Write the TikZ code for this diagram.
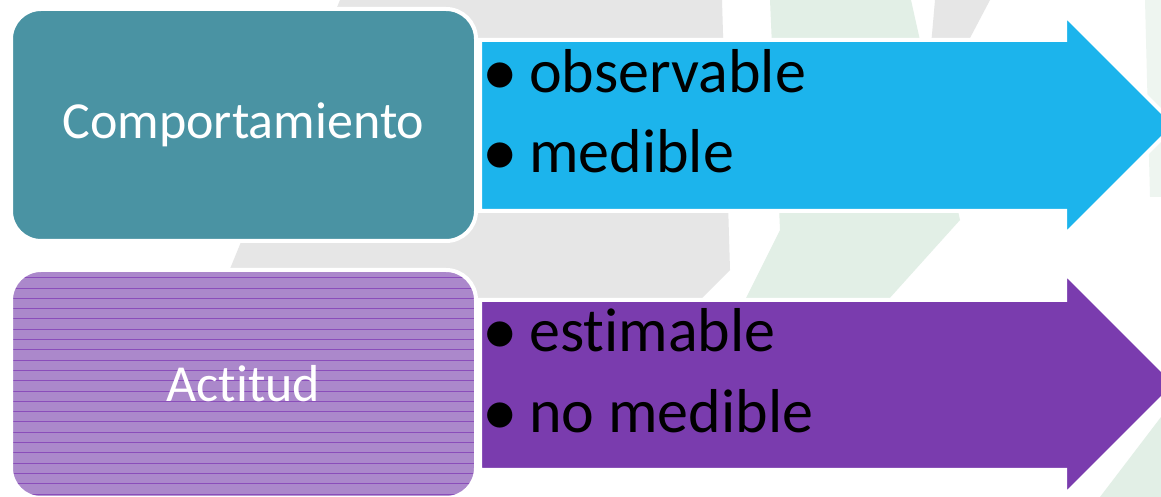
\documentclass[tikz,border=0pt]{standalone}
\usepackage{fontspec}
\setmainfont{Carlito}[Ligatures={NoCommon,NoRare,NoContextual}]

\definecolor{tealbox}{HTML}{4A93A3}
\definecolor{cyanarr}{HTML}{1CB4EC}
\definecolor{lilacbox}{HTML}{AB88CB}
\definecolor{lilacline}{HTML}{8A4DBA}
\definecolor{purplearr}{HTML}{7A3CAE}
\definecolor{wmgray}{HTML}{E6E6E6}
\definecolor{wmgreen}{HTML}{E2EFE6}

\newcommand{\itm}[1]{\makebox[48pt][l]{\hspace{1pt}\raisebox{-3pt}{\scalebox{1.15}{\textbullet}}}#1}

\begin{document}
\begin{tikzpicture}[x=1pt,y=1pt]
  \tikzset{
    box/.style={rounded corners=30pt, draw=white, line width=4pt,
      minimum width=465pt, inner sep=0pt, text=white,
      font=\fontsize{52}{60}\selectfont},
    arrowbody/.style={draw=white, line width=4pt},
    itemtext/.style={anchor=base west, inner sep=0pt,
      font=\fontsize{62}{75}\selectfont}
  }
  \useasboundingbox (0,0) rectangle (1161,497);
  \clip (0,0) rectangle (1161,497);
  \fill[white] (0,0) rectangle (1161,497);
  % watermark behind
  \fill[wmgray] (340,497) -- (722,497) -- (730,227) -- (670,167) -- (205,167) -- cycle;
  \fill[wmgreen] (770,497) -- (911,497) -- (960,277) -- (870,177) -- (730,167) -- (780,267) -- cycle;
  \fill[wmgray] (935,497) -- (990,497) -- (960,440) -- (930,440) -- cycle;
  \fill[wmgreen!60] (1145,497) -- (1161,497) -- (1161,300) -- (1150,300) -- cycle;
  \fill[wmgreen] (1161,0) -- (1100,0) -- (1161,80) -- cycle;

  % top row
  \node[box, fill=tealbox, minimum height=232pt] (comp) at (243.5,372) {Comportamiento};
  \draw[arrowbody, fill=cyanarr] (480,457) -- (1065,457) -- (1065,482) -- (1175,372)
    -- (1065,262) -- (1065,286) -- (480,286) -- cycle;
  \node[itemtext] (obs) at (481,404) {\itm{observable}};
  \node[itemtext] (med) at (481,324) {\itm{medible}};

  % bottom row
  \node[box, fill=lilacbox, minimum height=228pt,
    path picture={
      \foreach \k in {0,...,23}
        \draw[lilacline, line width=0.8pt]
          ([yshift=\k*10.3pt+4pt]path picture bounding box.south west)
          -- ([yshift=\k*10.3pt+4pt]path picture bounding box.south east);
    }] (acti) at (243.5,113) {Actitud};
  \draw[arrowbody, fill=purplearr] (480,197) -- (1065,197) -- (1065,224) -- (1176,113)
    -- (1065,2) -- (1065,27) -- (480,27) -- cycle;
  \node[itemtext] (esti) at (481,145) {\itm{estimable}};
  \node[itemtext] (nomed) at (481,64) {\itm{no medible}};
\end{tikzpicture}
\end{document}
